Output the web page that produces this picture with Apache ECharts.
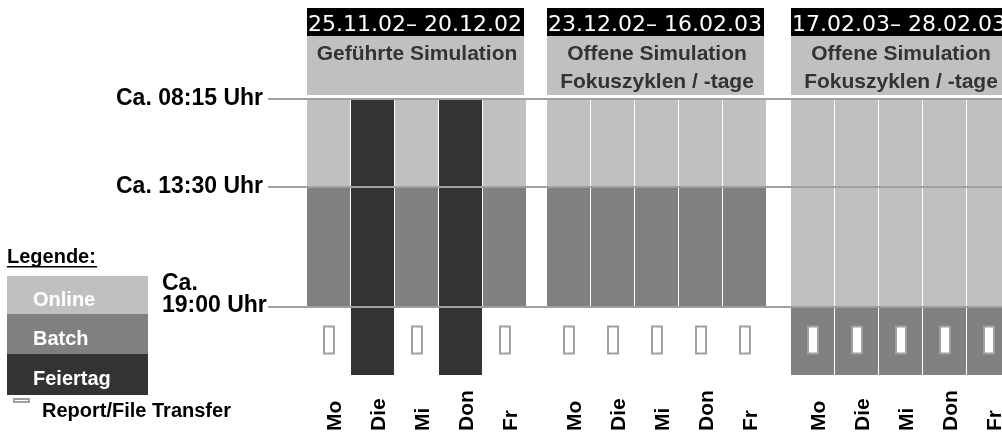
<!DOCTYPE html>
<html><head><meta charset="utf-8">
<script src="https://cdn.jsdelivr.net/npm/echarts@6/dist/echarts.min.js"></script>
<style>html,body{margin:0;padding:0;background:#fff}#c{width:1002px;height:432px}</style>
</head><body><div id="c"></div>
<script>
// ---------- data ----------
const days = ['Mo', 'Die', 'Mi', 'Don', 'Fr'];
const periods = ['25.11.02– 20.12.02', '23.12.02– 16.02.03', '17.02.03– 28.02.03'];
const periodTitles = ['Geführte Simulation', 'Offene Simulation\nFokuszyklen / -tage', 'Offene Simulation\nFokuszyklen / -tage'];
const timeLabels = ['Ca. 08:15 Uhr', 'Ca. 13:30 Uhr', 'Ca.\n19:00 Uhr'];
const legendItems = ['Online', 'Batch', 'Feiertag'];
const legendTitle = 'Legende:';
const reportLabel = 'Report/File Transfer';
// state per period (rows) and weekday (columns)
const morning = [
  ['Online', 'Feiertag', 'Online', 'Feiertag', 'Online'],
  ['Online', 'Online', 'Online', 'Online', 'Online'],
  ['Online', 'Online', 'Online', 'Online', 'Online']
];
const afternoon = [
  ['Batch', 'Feiertag', 'Batch', 'Feiertag', 'Batch'],
  ['Batch', 'Batch', 'Batch', 'Batch', 'Batch'],
  ['Online', 'Online', 'Online', 'Online', 'Online']
];
const evening = [
  [null, 'Feiertag', null, 'Feiertag', null],
  [null, null, null, null, null],
  ['Batch', 'Batch', 'Batch', 'Batch', 'Batch']
];
const reportTransfer = [
  [1, 0, 1, 0, 1],
  [1, 1, 1, 1, 1],
  [1, 1, 1, 1, 1]
];

// ---------- layout / style ----------
const COLORS = { Online: '#c0c0c0', Batch: '#808080', Feiertag: '#333333' };
const LINE = '#a0a0a0';
const GROUP_OFFSET = [0, 5.4545, 11];      // column units, includes gaps between periods
const BAND_EDGES = [0, 88, 208, 276];      // schematic y scale (08:15, 13:30, 19:00, end)
const ICON_LEVEL = 241;
const COL_PX = 44, GRID_LEFT = 307, CHART_W = 1002;
const BOLD = '"Liberation Sans", Arial, sans-serif';

const bands = [morning, afternoon, evening];
const cellData = [];
bands.forEach((band, b) => band.forEach((row, g) => row.forEach((st, d) => {
  if (st) cellData.push([GROUP_OFFSET[g] + d, b, legendItems.indexOf(st)]);
})));
const dayData = [];
const reportData = [];
periods.forEach((p, g) => days.forEach((d, i) => {
  dayData.push([GROUP_OFFSET[g] + i, 0, i]);
  if (reportTransfer[g][i]) reportData.push([GROUP_OFFSET[g] + i, ICON_LEVEL]);
}));

function renderCell(params, api) {
  const x = api.value(0), b = api.value(1), c = api.value(2);
  const p0 = api.coord([x, BAND_EDGES[b]]);
  const p1 = api.coord([x + 1, BAND_EDGES[b + 1]]);
  return { type: 'rect', shape: { x: p0[0], y: p0[1], width: p1[0] - p0[0] - 1, height: p1[1] - p0[1] },
    style: { fill: COLORS[legendItems[c]] } };
}
function renderHeader(params, api) {
  const g = params.dataIndex;
  const x0 = api.coord([api.value(0), 0])[0];
  const x1 = api.coord([api.value(0) + days.length, 0])[0];
  const top = api.coord([0, 0])[1];
  return { type: 'group', children: [
    { type: 'rect', shape: { x: x0, y: top - 91, width: x1 - x0 - 3, height: 28 }, style: { fill: '#000' } },
    { type: 'rect', shape: { x: x0, y: top - 63, width: x1 - x0 - 3, height: 59 }, style: { fill: '#c0c0c0' } },
    { type: 'text', x: x0 + 1, y: top - 74, style: { text: periods[g], fill: '#fff', fontSize: 22,
      fontFamily: '"DejaVu Sans", sans-serif', align: 'left', verticalAlign: 'middle' } },
    { type: 'text', x: (x0 + x1) / 2, y: top - 59, style: { text: periodTitles[g], fill: '#333', fontSize: 21,
      fontWeight: 'bold', fontFamily: BOLD, align: 'center', verticalAlign: 'top', lineHeight: 28 } }
  ] };
}
function renderReport(params, api) {
  const p = api.coord([api.value(0) + 0.5, api.value(1)]);
  return { type: 'rect', shape: { x: p[0] - 5, y: p[1] - 13.5, width: 10, height: 27 },
    style: { fill: '#fff', stroke: LINE, lineWidth: 2 } };
}
function renderTime(params, api) {
  const i = params.dataIndex;
  const y = api.coord([0, api.value(1)])[1];
  const xStart = api.coord([0, 0])[0] - 39;
  const xEnd = CHART_W;
  const multi = timeLabels[i].indexOf('\n') >= 0;
  const txt = multi
    ? { type: 'text', x: 162, y: y + 10, style: { text: timeLabels[i], fill: '#000', fontSize: 23, fontWeight: 'bold',
        fontFamily: BOLD, align: 'left', verticalAlign: 'bottom', lineHeight: 22 } }
    : { type: 'text', x: xStart - 5, y: y, style: { text: timeLabels[i], fill: '#000', fontSize: 23, fontWeight: 'bold',
        fontFamily: BOLD, align: 'right', verticalAlign: 'middle' } };
  return { type: 'group', children: [
    { type: 'line', shape: { x1: xStart, y1: y, x2: xEnd, y2: y }, style: { stroke: LINE, lineWidth: 2 } },
    txt
  ] };
}
function renderDay(params, api) {
  const p = api.coord([api.value(0) + 0.5, 0]);
  return { type: 'text', x: p[0] + 6, y: 431, rotation: Math.PI / 2,
    style: { text: days[api.value(2)], fill: '#000', fontSize: 21, fontWeight: 'bold', fontFamily: BOLD,
      align: 'left', verticalAlign: 'middle' } };
}

// legend graphics
const LEG_TOP = [276, 314, 354], LEG_H = [38, 40, 41];
const graphic = [
  { type: 'text', x: 7, y: 257, style: { text: legendTitle, fill: '#000', fontSize: 20, fontWeight: 'bold',
    fontFamily: BOLD, align: 'left', verticalAlign: 'middle' } },
  { type: 'rect', shape: { x: 7, y: 266, width: 90, height: 1.5 }, style: { fill: '#000' } }
];
legendItems.forEach((name, i) => {
  graphic.push({ type: 'rect', shape: { x: 7, y: LEG_TOP[i], width: 141, height: LEG_H[i] }, style: { fill: COLORS[name] } });
  graphic.push({ type: 'text', x: 33, y: LEG_TOP[i] + LEG_H[i] / 2 + 5, style: { text: name, fill: '#fff', fontSize: 20,
    fontWeight: 'bold', fontFamily: BOLD, align: 'left', verticalAlign: 'middle' } });
});
graphic.push({ type: 'rect', shape: { x: 14, y: 399, width: 15, height: 3 }, style: { fill: '#fff', stroke: LINE, lineWidth: 2 } });
graphic.push({ type: 'text', x: 42, y: 411, style: { text: reportLabel, fill: '#000', fontSize: 20, fontWeight: 'bold',
  fontFamily: BOLD, align: 'left', verticalAlign: 'middle' } });

const chart = echarts.init(document.getElementById('c'), null, { renderer: 'canvas' });
chart.setOption({
  animation: false,
  backgroundColor: '#fff',
  grid: { left: GRID_LEFT, top: 99, right: 0, bottom: 0 },
  xAxis: { type: 'value', min: 0, max: (CHART_W - GRID_LEFT) / COL_PX, show: false },
  yAxis: { type: 'value', min: 0, max: 333, inverse: true, show: false },
  graphic: graphic,
  series: [
    { type: 'custom', name: 'cells', renderItem: renderCell, data: cellData, z: 1, silent: true, clip: false },
    { type: 'custom', name: 'header', renderItem: renderHeader, data: periods.map((p, g) => [GROUP_OFFSET[g], 0]), z: 1, silent: true, clip: false },
    { type: 'custom', name: 'time', renderItem: renderTime, data: timeLabels.map((t, i) => [0, BAND_EDGES[i]]), z: 2, silent: true, clip: false },
    { type: 'custom', name: 'report', renderItem: renderReport, data: reportData, z: 3, silent: true, clip: false },
    { type: 'custom', name: 'days', renderItem: renderDay, data: dayData, z: 3, silent: true, clip: false }
  ]
});
</script></body></html>
